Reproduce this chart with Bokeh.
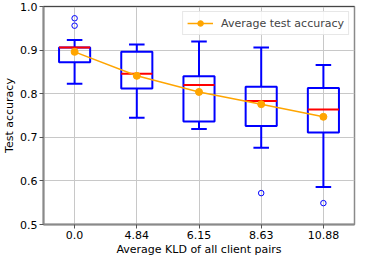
from bokeh.plotting import figure
from bokeh.models import FixedTicker, PrintfTickFormatter, Span, ColumnDataSource, Range1d
from bokeh.embed import file_html
from bokeh.resources import INLINE

# ---- data ----
kld_labels = ["0.0", "4.84", "6.15", "8.63", "10.88"]
positions = [1, 2, 3, 4, 5]
q1 = [0.872, 0.812, 0.736, 0.726, 0.711]
q3 = [0.906, 0.896, 0.840, 0.816, 0.813]
medians = [0.906, 0.846, 0.820, 0.783, 0.764]
whisker_low = [0.823, 0.745, 0.719, 0.676, 0.586]
whisker_high = [0.923, 0.913, 0.920, 0.906, 0.866]
mean_acc = [0.896, 0.841, 0.804, 0.776, 0.747]
outlier_pos = [1, 1, 4, 5]
outlier_vals = [0.973, 0.956, 0.572, 0.549]
y_ticks = [0.5, 0.6, 0.7, 0.8, 0.9, 1.0]

BOX_W = 0.5
CAP_W = 0.25
FONT = "DejaVu Sans"

src = ColumnDataSource(dict(
    x=positions, q1=q1, q3=q3, med=medians, lo=whisker_low, hi=whisker_high,
    bl=[x - BOX_W / 2 for x in positions], br=[x + BOX_W / 2 for x in positions],
    cl=[x - CAP_W / 2 for x in positions], cr=[x + CAP_W / 2 for x in positions],
))

p = figure(width=357, height=258, output_backend="svg", toolbar_location=None,
           x_range=Range1d(0.5, 5.5), y_range=Range1d(0.5, 1.0),
           min_border_left=0, min_border_right=3, min_border_top=6, min_border_bottom=0)

# grid
p.xgrid.ticker = FixedTicker(ticks=positions)
p.ygrid.ticker = FixedTicker(ticks=y_ticks)
for g in (p.xgrid, p.ygrid):
    g.grid_line_color = "#c8c8c8"
    g.grid_line_width = 1

# boxes
p.vbar(x="x", width=BOX_W, bottom="q1", top="q3", source=src,
       fill_color=None, line_color="blue", line_width=2)
p.segment(x0="x", y0="q3", x1="x", y1="hi", source=src, line_color="blue", line_width=2)
p.segment(x0="x", y0="q1", x1="x", y1="lo", source=src, line_color="blue", line_width=2)
p.segment(x0="cl", y0="hi", x1="cr", y1="hi", source=src, line_color="blue", line_width=2)
p.segment(x0="cl", y0="lo", x1="cr", y1="lo", source=src, line_color="blue", line_width=2)
p.segment(x0="bl", y0="med", x1="br", y1="med", source=src, line_color="red", line_width=2)
p.scatter(outlier_pos, outlier_vals, marker="circle", size=5.5, fill_color=None,
          line_color="blue", line_width=1)

# mean line
p.line(positions, mean_acc, line_color="orange", line_width=1.5,
       legend_label="Average test accuracy")
p.scatter(positions, mean_acc, marker="circle", size=7, fill_color="orange",
          line_color="orange", legend_label="Average test accuracy")

# axes
p.xaxis.ticker = FixedTicker(ticks=positions)
p.xaxis.major_label_overrides = {x: l for x, l in zip(positions, kld_labels)}
p.yaxis.ticker = FixedTicker(ticks=y_ticks)
p.yaxis.formatter = PrintfTickFormatter(format="%.1f")
p.xaxis.axis_label = "Average KLD of all client pairs"
p.yaxis.axis_label = "Test accuracy"
for ax in (p.xaxis[0], p.yaxis[0]):
    ax.axis_line_color = "#8a8a8a"
    ax.axis_line_width = 2
    ax.major_tick_line_color = "#555555"
    ax.major_tick_out = 4
    ax.major_tick_in = 0
    ax.minor_tick_line_color = None
    ax.major_label_text_font = FONT
    ax.major_label_text_font_size = "11px"
    ax.major_label_text_color = "black"
    ax.major_label_standoff = 2
    ax.axis_label_text_font = FONT
    ax.axis_label_text_font_size = "11px"
    ax.axis_label_text_font_style = "normal"
    ax.axis_label_text_color = "black"
    ax.axis_label_standoff = 1

p.outline_line_color = "#8a8a8a"
p.outline_line_width = 1.5
p.add_layout(Span(location=1.0, dimension="width", line_color="black", line_width=1.2))

# legend
lg = p.legend[0]
lg.location = "top_right"
lg.label_text_font = FONT
lg.label_text_font_size = "11px"
lg.border_line_color = "#d0d0d0"
lg.border_line_width = 1
lg.background_fill_alpha = 0.85
lg.padding = 4
lg.margin = 5
lg.glyph_width = 26
lg.glyph_height = 14
lg.label_standoff = 8
lg.label_height = 14

p.background_fill_color = "white"
p.border_fill_color = "white"

open("out.html", "w").write(file_html(p, INLINE))
